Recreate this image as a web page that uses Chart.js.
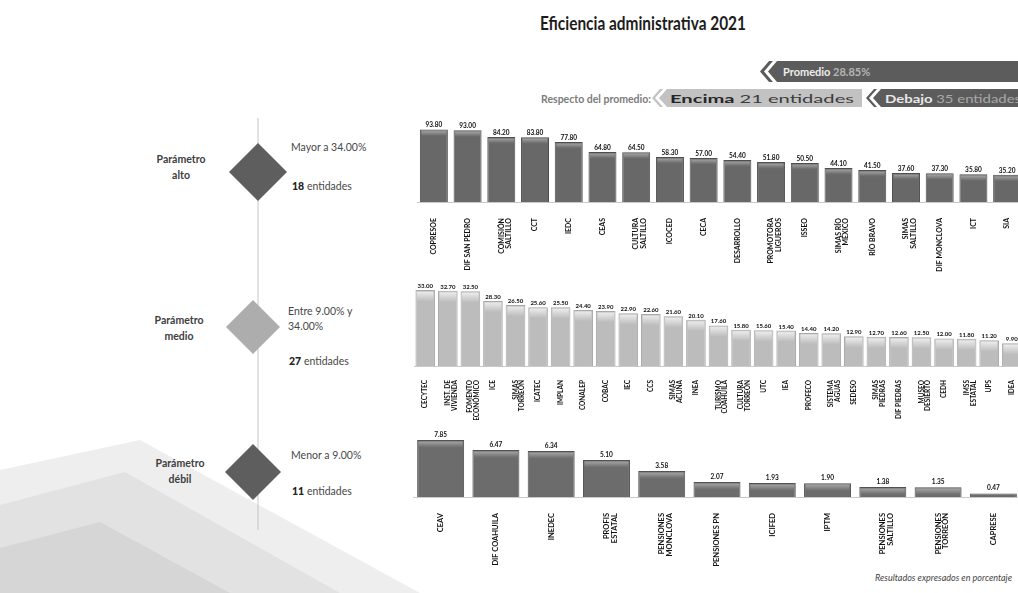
<!DOCTYPE html>
<html><head><meta charset="utf-8">
<script src="https://cdn.jsdelivr.net/npm/chart.js@4.4.0/dist/chart.umd.min.js"></script>
<style>
html,body{margin:0;padding:0;background:#fff;}
body{width:1018px;height:593px;overflow:hidden;position:relative;font-family:Lato,'Open Sans',sans-serif;}
#deco{position:absolute;left:0;top:0;}
.wrap{position:absolute;}
</style></head><body>
<svg id="deco" width="1018" height="593" xmlns="http://www.w3.org/2000/svg" font-family="Lato, 'Open Sans', sans-serif">
  <polygon points="0,470 140,440 420,593 0,593" fill="#eeeeee"/>
  <polygon points="0,505 125,472 340,593 0,593" fill="#e2e2e2"/>
  <polygon points="0,548 100,522 230,593 0,593" fill="#d6d6d6"/>
  <line x1="258" y1="118" x2="258" y2="530" stroke="#c4c4c4" stroke-width="1"/>
  <polygon points="258,143 287,172 258,201 229,172" fill="#5e5e5e"/>
  <polygon points="253,300 280,327 253,354 226,327" fill="#adadad"/>
  <polygon points="253,444 281,472 253,500 225,472" fill="#5e5e5e"/>
  <text x="643" y="30" text-anchor="middle" font-size="18" font-weight="700" fill="#1c1c1c" textLength="206" lengthAdjust="spacingAndGlyphs">Eficiencia administrativa 2021</text>
  <polygon points="760,71.5 769,61 773,61 764,71.5 773,82 769,82" fill="#5c5c5c"/>
  <polygon points="777,61 1018,61 1018,82 777,82 768,71.5" fill="#5c5c5c"/>
  <text x="783" y="76" font-size="11" font-weight="700" fill="#eeeeee">Promedio <tspan fill="#b5b5b5">28.85%</tspan></text>
  <text x="541" y="103" font-size="11" font-weight="700" fill="#7c7c7c" textLength="110" lengthAdjust="spacingAndGlyphs">Respecto del promedio:</text>
  <polygon points="652,98 660,89 663,89 655,98 663,107 660,107" fill="#c2c2c2"/>
  <polygon points="667,89 862,89 862,107 667,107 659,98" fill="#c2c2c2"/>
  <text x="670" y="102.5" font-size="11" font-weight="700" fill="#262626" textLength="184" lengthAdjust="spacingAndGlyphs">Encima <tspan font-weight="400" fill="#3c3c3c">21 entidades</tspan></text>
  <polygon points="866,98 874,89 877,89 869,98 877,107 874,107" fill="#5c5c5c"/>
  <polygon points="881,89 1018,89 1018,107 881,107 873,98" fill="#5c5c5c"/>
  <text x="885" y="102.5" font-size="11" font-weight="700" fill="#e8e8e8" textLength="136" lengthAdjust="spacingAndGlyphs">Debajo <tspan font-weight="400" fill="#a8a8a8">35 entidades</tspan></text>

  <g font-size="10.5" fill="#404040" font-weight="700" text-anchor="middle">
    <text x="181" y="163">Parámetro</text><text x="181" y="179">alto</text>
    <text x="179" y="324">Parámetro</text><text x="179" y="340">medio</text>
    <text x="180" y="467">Parámetro</text><text x="180" y="483">débil</text>
  </g>
  <g font-size="10.5" fill="#474747">
    <text x="291" y="151">Mayor a 34.00%</text>
    <text x="292" y="190"><tspan font-weight="900" fill="#222">18</tspan>  entidades</text>
    <text x="288" y="315">Entre 9.00% y</text>
    <text x="288" y="330">34.00%</text>
    <text x="289" y="365"><tspan font-weight="900" fill="#222">27</tspan>  entidades</text>
    <text x="291" y="459">Menor a 9.00%</text>
    <text x="292" y="495"><tspan font-weight="900" fill="#222">11</tspan>  entidades</text>
  </g>
  <text x="1012" y="581" text-anchor="end" font-size="9" fill="#444" font-style="italic">Resultados expresados en porcentaje</text>
</svg>

<div class="wrap" style="left:417px;top:60px;width:607px;height:215px;"><canvas id="cTop"></canvas></div>
<div class="wrap" style="left:413.7px;top:280px;width:609px;height:140px;"><canvas id="cMid"></canvas></div>
<div class="wrap" style="left:413px;top:425px;width:608px;height:160px;"><canvas id="cBot"></canvas></div>

<script>
// ---- Data ----
const topLabels = ['COPRESOE', 'DIF SAN PEDRO', ['COMISIÓN', 'SALTILLO'], 'CCT', 'IEDC', 'CEAS', ['CULTURA', 'SALTILLO'], 'ICOCED', 'CECA', 'DESARROLLO', ['PROMOTORA', 'LIGUEROS'], 'ISSEO', ['SIMAS RÍO', 'MÉXICO'], 'RÍO BRAVO', ['SIMAS', 'SALTILLO'], 'DIF MONCLOVA', 'ICT', 'SIA'];
const topValues = [93.80, 93.00, 84.20, 83.80, 77.80, 64.80, 64.50, 58.30, 57.00, 54.40, 51.80, 50.50, 44.10, 41.50, 37.60, 37.30, 35.80, 35.20];

const midLabels = ['CECYTEC', ['INST. DE', 'VIVIENDA'], ['FOMENTO', 'ECONÓMICO'], 'ICE', ['SIMAS', 'TORREÓN'], 'ICATEC', 'IMPLAN', 'CONALEP', 'COBAC', 'IEC', 'CCS', ['SIMAS', 'ACUÑA'], 'INEA', ['TURISMO', 'COAHUILA'], ['CULTURA', 'TORREÓN'], 'UTC', 'IEA', 'PROFECO', ['SISTEMA', 'AGUAS'], 'SEDESO', ['SIMAS', 'PIEDRAS'], 'DIF PIEDRAS', ['MUSEO', 'DESIERTO'], 'CEDH', ['IMSS', 'ESTATAL'], 'UPS', 'IDEA'];
const midValues = [33.00, 32.70, 32.50, 28.30, 26.50, 25.60, 25.50, 24.40, 23.90, 22.90, 22.60, 21.60, 20.10, 17.60, 15.80, 15.60, 15.40, 14.40, 14.20, 12.90, 12.70, 12.60, 12.50, 12.00, 11.80, 11.20, 9.90];

const botLabels = ['CEAV', 'DIF COAHUILA', 'INEDEC', ['PROFIS', 'ESTATAL'], ['PENSIONES', 'MONCLOVA'], 'PENSIONES PN', 'ICIFED', 'IPTM', ['PENSIONES', 'SALTILLO'], ['PENSIONES', 'TORREÓN'], 'CAPRESE'];
const botValues = [7.85, 6.47, 6.34, 5.10, 3.58, 2.07, 1.93, 1.90, 1.38, 1.35, 0.47];

// ---- Drawing helpers ----
const barDecor = {
  id: 'barDecor',
  afterDatasetsDraw(chart, args, o) {
    const ctx = chart.ctx;
    const meta = chart.getDatasetMeta(0);
    const vals = chart.data.datasets[0].data;
    ctx.save();
    meta.data.forEach((el, i) => {
      const w = el.width, x = el.x - w / 2, top = el.y, h = el.base - el.y;
      if (h > 4) {
        const capH = Math.min(o.capH, h - 2);
        const g = ctx.createLinearGradient(0, top + 1, 0, top + 1 + capH);
        g.addColorStop(0, o.capColor);
        g.addColorStop(1, o.capFade);
        ctx.fillStyle = g;
        ctx.fillRect(x + 1.5, top + 1.5, w - 3, capH);
      }
      ctx.fillStyle = '#111111';
      ctx.font = o.font;
      ctx.textAlign = 'center';
      ctx.textBaseline = 'bottom';
      ctx.fillText(vals[i].toFixed(2), el.x, top - o.gap);
    });
    ctx.restore();
  }
};

function makeChart(id, labels, values, cfg) {
  return new Chart(document.getElementById(id), {
    type: 'bar',
    data: {
      labels: labels,
      datasets: [{
        data: values,
        backgroundColor: cfg.fill,
        borderColor: cfg.border,
        borderWidth: 1,
        borderSkipped: 'bottom',
        barPercentage: cfg.barPct,
        categoryPercentage: 1
      }]
    },
    options: {
      responsive: true,
      maintainAspectRatio: false,
      animation: false,
      layout: { padding: 0 },
      plugins: {
        legend: { display: false },
        tooltip: { enabled: false },
        barDecor: { capH: cfg.capH, capColor: cfg.capColor, capFade: cfg.capFade, font: cfg.valFont, gap: cfg.gap }
      },
      scales: {
        x: {
          grid: { display: false },
          border: { display: true, color: '#c9c9c9', width: 1 },
          ticks: {
            autoSkip: false, minRotation: 90, maxRotation: 90, padding: cfg.tickPad,
            color: '#111111', font: { family: 'Lato', size: cfg.tickSize, weight: 'bold', lineHeight: 1.05 }
          },
          afterFit(s) { s.height = cfg.axisH; s.paddingLeft = 0; s.paddingRight = 0; }
        },
        y: { display: false, min: 0, max: cfg.ymax }
      }
    },
    plugins: [barDecor]
  });
}

makeChart('cTop', topLabels, topValues, {
  fill: '#686868', border: '#4e4e4e', barPct: 0.83, capH: 5, capColor: '#a6a6a6', capFade: '#6c6c6c',
  valFont: 'bold 6.5px Lato', gap: 1, tickPad: 8, tickSize: 7, axisH: 73, ymax: 184
});
makeChart('cMid', midLabels, midValues, {
  fill: '#bcbcbc', border: '#a9a9a9', barPct: 0.87, capH: 10, capColor: '#eeeeee', capFade: '#bdbdbd',
  valFont: 'bold 6px Lato', gap: 1, tickPad: 6, tickSize: 6.5, axisH: 54, ymax: 37.4
});
makeChart('cBot', botLabels, botValues, {
  fill: '#6c6c6c', border: '#525252', barPct: 0.85, capH: 6, capColor: '#a8a8a8', capFade: '#707070',
  valFont: 'bold 6.5px Lato', gap: 2, tickPad: 8, tickSize: 7.5, axisH: 88, ymax: 9.92
});
</script>
</body></html>
